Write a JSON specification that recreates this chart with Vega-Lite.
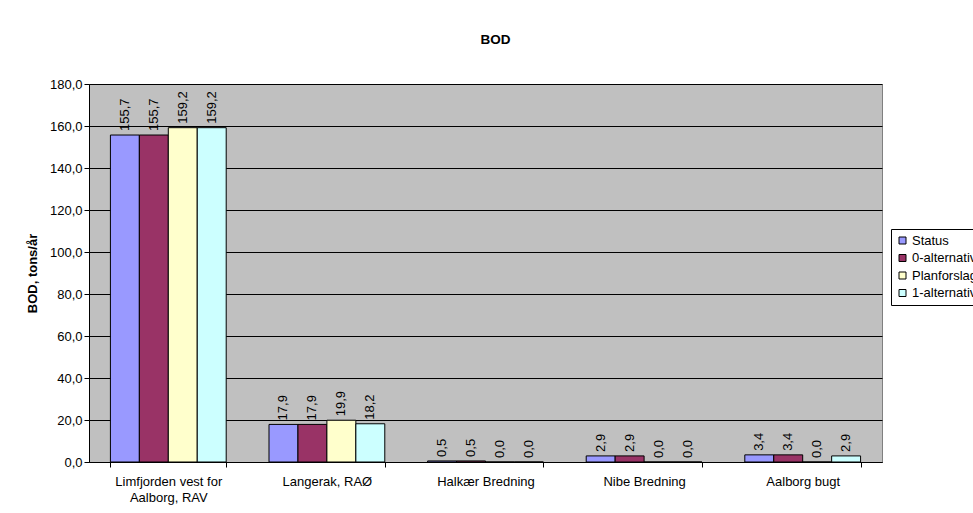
{
  "$schema": "https://vega.github.io/schema/vega-lite/v6.json",
  "width": 793,
  "height": 378,
  "autosize": {"type": "none"},
  "padding": {"left": 89, "top": 84, "right": 91, "bottom": 51},
  "background": "white",
  "title": {
    "text": "BOD",
    "font": "Liberation Sans",
    "fontSize": 13.5,
    "fontWeight": "bold",
    "color": "black",
    "anchor": "middle",
    "dx": 10,
    "offset": 32
  },
  "data": {
    "values": [
      {"site": "Limfjorden vest for Aalborg, RAV", "scenario": "Status", "bod": 155.7},
      {"site": "Limfjorden vest for Aalborg, RAV", "scenario": "0-alternativ", "bod": 155.7},
      {"site": "Limfjorden vest for Aalborg, RAV", "scenario": "Planforslag", "bod": 159.2},
      {"site": "Limfjorden vest for Aalborg, RAV", "scenario": "1-alternativ", "bod": 159.2},
      {"site": "Langerak, RAØ", "scenario": "Status", "bod": 17.9},
      {"site": "Langerak, RAØ", "scenario": "0-alternativ", "bod": 17.9},
      {"site": "Langerak, RAØ", "scenario": "Planforslag", "bod": 19.9},
      {"site": "Langerak, RAØ", "scenario": "1-alternativ", "bod": 18.2},
      {"site": "Halkær Bredning", "scenario": "Status", "bod": 0.5},
      {"site": "Halkær Bredning", "scenario": "0-alternativ", "bod": 0.5},
      {"site": "Halkær Bredning", "scenario": "Planforslag", "bod": 0.0},
      {"site": "Halkær Bredning", "scenario": "1-alternativ", "bod": 0.0},
      {"site": "Nibe Bredning", "scenario": "Status", "bod": 2.9},
      {"site": "Nibe Bredning", "scenario": "0-alternativ", "bod": 2.9},
      {"site": "Nibe Bredning", "scenario": "Planforslag", "bod": 0.0},
      {"site": "Nibe Bredning", "scenario": "1-alternativ", "bod": 0.0},
      {"site": "Aalborg bugt", "scenario": "Status", "bod": 3.4},
      {"site": "Aalborg bugt", "scenario": "0-alternativ", "bod": 3.4},
      {"site": "Aalborg bugt", "scenario": "Planforslag", "bod": 0.0},
      {"site": "Aalborg bugt", "scenario": "1-alternativ", "bod": 2.9}
    ]
  },
  "encoding": {
    "x": {
      "field": "site",
      "type": "nominal",
      "sort": null,
      "scale": {"paddingInner": 0.27, "paddingOuter": 0.135},
      "axis": {
        "title": null,
        "labelAngle": 0,
        "labelExpr": "datum.value == 'Limfjorden vest for Aalborg, RAV' ? ['Limfjorden vest for', 'Aalborg, RAV'] : datum.value",
        "labelPadding": 8,
        "labelLineHeight": 16,
        "tickBand": "extent",
        "tickSize": 5,
        "grid": false
      }
    },
    "xOffset": {
      "field": "scenario",
      "type": "nominal",
      "sort": ["Status", "0-alternativ", "Planforslag", "1-alternativ"],
      "scale": {"paddingInner": 0, "paddingOuter": 0}
    },
    "y": {
      "field": "bod",
      "type": "quantitative",
      "scale": {"domain": [0, 180], "nice": false},
      "axis": {
        "title": "BOD, tons/år",
        "values": [0, 20, 40, 60, 80, 100, 120, 140, 160, 180],
        "format": ".1f",
        "grid": true,
        "gridColor": "black",
        "gridWidth": 1,
        "gridOpacity": 1,
        "tickSize": 5,
        "labelPadding": 2,
        "titlePadding": 10,
        "titleFontWeight": "bold"
      }
    }
  },
  "layer": [
    {
      "mark": {"type": "bar", "stroke": "black", "strokeWidth": 1},
      "encoding": {
        "color": {
          "field": "scenario",
          "type": "nominal",
          "sort": ["Status", "0-alternativ", "Planforslag", "1-alternativ"],
          "scale": {
            "domain": ["Status", "0-alternativ", "Planforslag", "1-alternativ"],
            "range": ["#9999FF", "#993366", "#FFFFCC", "#CCFFFF"]
          },
          "legend": {
            "title": null,
            "orient": "none",
            "legendX": 802,
            "legendY": 145,
            "symbolType": "square",
            "symbolSize": 49,
            "symbolStrokeColor": "black",
            "symbolStrokeWidth": 1,
            "symbolOpacity": 1,
            "labelFontSize": 13,
            "labelFont": "Liberation Sans",
            "labelColor": "black",
            "labelOffset": 3,
            "rowPadding": 3.5,
            "padding": 5,
            "strokeColor": "black",
            "fillColor": "white"
          }
        }
      }
    },
    {
      "mark": {
        "type": "text",
        "angle": 270,
        "align": "left",
        "baseline": "middle",
        "dx": 4,
        "font": "Liberation Sans",
        "fontSize": 13,
        "color": "black"
      },
      "encoding": {
        "text": {"field": "bod", "type": "quantitative", "format": ".1f"}
      }
    }
  ],
  "config": {
    "locale": {
      "number": {"decimal": ",", "thousands": ".", "grouping": [3], "currency": ["", " kr."]}
    },
    "font": "Liberation Sans",
    "view": {"fill": "#C0C0C0", "stroke": "#808080", "strokeWidth": 1},
    "axis": {
      "labelFont": "Liberation Sans",
      "labelFontSize": 13,
      "labelColor": "black",
      "titleFont": "Liberation Sans",
      "titleFontSize": 13,
      "titleColor": "black",
      "domainColor": "black",
      "tickColor": "black",
      "domainWidth": 1,
      "tickWidth": 1
    }
  }
}
